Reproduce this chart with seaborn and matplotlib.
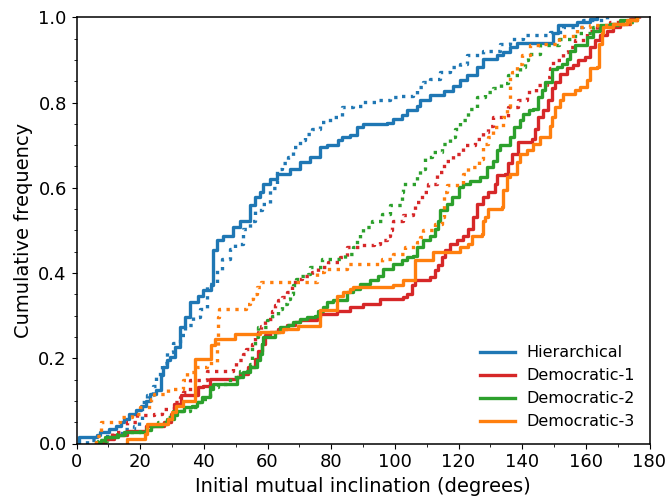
import numpy as np
import matplotlib
matplotlib.use("Agg")
import matplotlib.pyplot as plt
import seaborn as sns
from matplotlib.ticker import MultipleLocator

# ECDF: (inclination in degrees, cumulative frequency after the step)
hier_solid = [(0.8, 0.015), (6.5, 0.021), (7.5, 0.027), (10.2, 0.035), (12.3, 0.042), (13.9, 0.05),
              (14.9, 0.058), (16.5, 0.07), (18.6, 0.078), (20.2, 0.089), (21.7, 0.10), (23.2, 0.117),
              (24.9, 0.125), (26.7, 0.16), (27.3, 0.18), (28.5, 0.195), (29.4, 0.203), (30.9, 0.226),
              (32.5, 0.273), (34.0, 0.296), (35.7, 0.332), (38.3, 0.347), (39.8, 0.359), (42.4, 0.371),
              (42.8, 0.453), (44.0, 0.477), (46.1, 0.488), (49.3, 0.508), (51.4, 0.523), (54.5, 0.559),
              (56.0, 0.578), (57.7, 0.59), (58.7, 0.61), (60.8, 0.621), (62.9, 0.633), (67.0, 0.643),
              (70.2, 0.66), (73.4, 0.672), (76.5, 0.696), (78.6, 0.70), (82.3, 0.711), (83.3, 0.719),
              (85.9, 0.723), (88.0, 0.742), (90.1, 0.75), (97.4, 0.753), (99.5, 0.762), (102.1, 0.77),
              (103.7, 0.782), (106.9, 0.793), (107.9, 0.807), (111.0, 0.817), (115.3, 0.827),
              (118.4, 0.838), (120.5, 0.852), (122.6, 0.864), (125.7, 0.883), (127.8, 0.903),
              (132.0, 0.911), (134.1, 0.918), (136.2, 0.93), (138.3, 0.94), (149.8, 0.962),
              (151.3, 0.981), (157.1, 0.989), (161.4, 0.997), (163.4, 1.0)]

hier_dotted = [(3.2, 0.008), (8.2, 0.017), (12.3, 0.025), (15.3, 0.033), (18.0, 0.042), (19.6, 0.054),
               (20.6, 0.097), (22.0, 0.113), (23.9, 0.134), (24.9, 0.163), (27.0, 0.19), (28.3, 0.214),
               (30.4, 0.235), (32.4, 0.255), (34.0, 0.277), (36.7, 0.296), (38.8, 0.316), (40.9, 0.375),
               (44.0, 0.406), (45.6, 0.434), (48.2, 0.457), (49.8, 0.469), (52.4, 0.504), (54.5, 0.523),
               (56.0, 0.547), (58.2, 0.563), (60.7, 0.60), (62.9, 0.645), (64.4, 0.657), (66.5, 0.672),
               (68.1, 0.696), (70.2, 0.711), (71.8, 0.727), (73.9, 0.739), (76.5, 0.754), (79.6, 0.766),
               (83.3, 0.789), (86.9, 0.793), (90.1, 0.801), (94.3, 0.807), (98.5, 0.813), (101.6, 0.815),
               (105.8, 0.821), (106.9, 0.836), (108.9, 0.848), (111.0, 0.856), (114.1, 0.872),
               (117.4, 0.883), (120.5, 0.891), (122.6, 0.911), (127.8, 0.922), (133.0, 0.938),
               (136.2, 0.95), (140.4, 0.958), (148.7, 0.965), (152.9, 0.977), (159.2, 0.993), (166.6, 1.0)]

dem1_solid = [(9.1, 0.011), (11.8, 0.019), (16.0, 0.03), (21.7, 0.042), (27.5, 0.05), (29.6, 0.07),
              (30.6, 0.093), (32.7, 0.113), (38.3, 0.132), (39.8, 0.136), (41.9, 0.152), (50.3, 0.155),
              (51.4, 0.164), (53.9, 0.179), (56.0, 0.198), (57.1, 0.218), (58.2, 0.234), (59.2, 0.254),
              (60.8, 0.262), (63.4, 0.269), (66.0, 0.277), (68.6, 0.285), (70.2, 0.29), (75.4, 0.297),
              (76.5, 0.304), (81.8, 0.312), (85.9, 0.32), (90.1, 0.328), (95.4, 0.34), (102.6, 0.343),
              (103.8, 0.351), (105.3, 0.371), (106.4, 0.383), (111.0, 0.39), (112.6, 0.406),
              (113.6, 0.418), (114.8, 0.437), (115.8, 0.453), (117.4, 0.469), (119.4, 0.478),
              (121.5, 0.488), (123.1, 0.504), (124.6, 0.531), (125.7, 0.563), (127.8, 0.578),
              (129.4, 0.59), (131.5, 0.61), (132.0, 0.629), (134.6, 0.633), (135.6, 0.657),
              (136.7, 0.68), (138.8, 0.707), (143.0, 0.715), (144.0, 0.739), (145.1, 0.766),
              (146.6, 0.782), (148.2, 0.805), (149.3, 0.833), (150.4, 0.848), (151.9, 0.868),
              (154.0, 0.88), (156.1, 0.887), (157.6, 0.899), (159.7, 0.907), (161.4, 0.93),
              (162.9, 0.946), (164.5, 0.958), (166.6, 0.969), (168.6, 0.977), (170.7, 0.985),
              (173.9, 0.997), (175.7, 1.0)]

dem1_dotted = [(7.9, 0.011), (11.0, 0.027), (15.8, 0.05), (18.9, 0.066), (24.4, 0.07), (26.8, 0.081),
               (30.6, 0.097), (32.5, 0.109), (33.4, 0.12), (35.8, 0.148), (40.9, 0.171), (49.3, 0.179),
               (50.1, 0.197), (52.4, 0.211), (53.4, 0.222), (55.0, 0.234), (56.0, 0.25), (56.9, 0.262),
               (58.0, 0.275), (59.2, 0.293), (61.3, 0.312), (62.4, 0.324), (63.4, 0.336), (64.4, 0.343),
               (66.0, 0.355), (67.6, 0.375), (68.6, 0.387), (70.8, 0.394), (73.9, 0.402), (76.0, 0.414),
               (79.1, 0.426), (82.8, 0.437), (84.9, 0.461), (89.0, 0.465), (93.3, 0.469), (95.4, 0.477),
               (97.4, 0.488), (98.5, 0.5), (99.0, 0.512), (99.5, 0.523), (102.6, 0.535), (105.8, 0.543),
               (106.4, 0.566), (108.6, 0.59), (110.5, 0.61), (113.1, 0.637), (115.3, 0.664),
               (118.4, 0.68), (121.5, 0.70), (125.2, 0.715), (127.8, 0.731), (129.4, 0.746),
               (130.9, 0.766), (135.6, 0.789), (138.8, 0.805), (141.4, 0.825), (144.4, 0.84),
               (147.7, 0.86), (148.7, 0.88), (149.8, 0.899), (152.9, 0.919), (154.5, 0.93),
               (156.6, 0.946), (160.3, 0.969), (163.6, 0.98), (167.6, 0.989), (173.7, 0.996), (176.7, 1.0)]

dem2_solid = [(6.0, 0.004), (7.6, 0.008), (9.1, 0.015), (12.9, 0.019), (14.9, 0.027), (21.7, 0.031),
              (23.4, 0.042), (27.0, 0.046), (28.5, 0.058), (30.6, 0.066), (31.6, 0.077), (33.7, 0.085),
              (36.4, 0.089), (38.0, 0.097), (39.5, 0.109), (41.9, 0.128), (43.0, 0.14), (50.3, 0.156),
              (52.4, 0.167), (54.5, 0.179), (56.6, 0.197), (57.7, 0.211), (58.2, 0.234), (58.7, 0.25),
              (62.4, 0.261), (63.9, 0.273), (66.5, 0.277), (68.1, 0.285), (70.2, 0.293), (72.3, 0.297),
              (74.9, 0.30), (76.0, 0.312), (77.5, 0.32), (78.6, 0.332), (80.7, 0.336), (84.9, 0.355),
              (86.9, 0.363), (89.0, 0.375), (92.1, 0.383), (94.8, 0.394), (96.4, 0.41), (99.5, 0.422),
              (102.1, 0.43), (103.7, 0.437), (105.8, 0.441), (106.9, 0.461), (108.9, 0.477),
              (111.0, 0.488), (112.6, 0.504), (113.6, 0.523), (114.1, 0.547), (116.3, 0.563),
              (117.9, 0.578), (120.0, 0.602), (121.5, 0.61), (123.6, 0.617), (126.8, 0.625),
              (128.9, 0.649), (130.9, 0.664), (132.0, 0.688), (133.0, 0.70), (136.1, 0.719),
              (137.3, 0.743), (139.4, 0.758), (140.4, 0.774), (142.0, 0.782), (143.5, 0.786),
              (145.1, 0.813), (146.1, 0.829), (147.1, 0.848), (149.3, 0.879), (150.9, 0.883),
              (152.4, 0.891), (154.0, 0.903), (155.0, 0.922), (156.6, 0.934), (160.3, 0.954),
              (162.4, 0.969), (164.5, 0.981), (167.6, 0.985), (170.7, 0.993), (176.0, 1.0)]

dem2_dotted = [(6.8, 0.007), (9.6, 0.015), (12.7, 0.023), (16.0, 0.027), (19.9, 0.034), (22.7, 0.042),
               (25.7, 0.05), (28.4, 0.062), (30.4, 0.077), (35.7, 0.085), (38.5, 0.105), (41.9, 0.132),
               (44.5, 0.14), (48.1, 0.155), (51.4, 0.171), (54.5, 0.187), (55.0, 0.226), (56.1, 0.25),
               (57.1, 0.273), (59.8, 0.289), (61.3, 0.30), (63.4, 0.316), (64.4, 0.328), (66.0, 0.34),
               (67.0, 0.351), (68.1, 0.371), (69.1, 0.387), (70.2, 0.394), (72.8, 0.398), (73.4, 0.414),
               (77.0, 0.434), (84.4, 0.445), (86.9, 0.46), (88.0, 0.477), (89.0, 0.492), (90.1, 0.508),
               (92.8, 0.523), (95.9, 0.539), (98.5, 0.559), (102.1, 0.59), (102.6, 0.61), (106.9, 0.629),
               (107.9, 0.645), (109.5, 0.672), (111.6, 0.684), (114.8, 0.703), (117.4, 0.719),
               (118.9, 0.739), (120.5, 0.758), (122.6, 0.766), (123.1, 0.786), (125.7, 0.813),
               (128.4, 0.825), (130.9, 0.833), (133.3, 0.845), (135.6, 0.864), (139.4, 0.883),
               (140.9, 0.899), (141.9, 0.915), (145.6, 0.934), (151.5, 0.95), (156.6, 0.962),
               (162.4, 0.977), (169.7, 0.989), (175.7, 1.0)]

dem3_solid = [(15.8, 0.011), (21.5, 0.023), (22.1, 0.046), (28.8, 0.058), (29.9, 0.073), (31.4, 0.089),
              (33.5, 0.10), (37.2, 0.199), (42.4, 0.232), (43.5, 0.246), (49.8, 0.257), (57.7, 0.262),
              (65.0, 0.269), (69.7, 0.275), (76.5, 0.314), (81.8, 0.347), (83.8, 0.355), (85.9, 0.363),
              (86.9, 0.367), (99.5, 0.371), (102.6, 0.383), (106.4, 0.43), (112.1, 0.449),
              (120.5, 0.461), (123.1, 0.469), (124.1, 0.488), (127.3, 0.492), (127.8, 0.523),
              (128.4, 0.531), (129.4, 0.551), (133.6, 0.555), (134.1, 0.594), (135.1, 0.625),
              (136.1, 0.633), (138.3, 0.66), (139.4, 0.68), (141.5, 0.688), (143.5, 0.703),
              (145.6, 0.719), (148.7, 0.746), (149.3, 0.766), (150.4, 0.789), (151.9, 0.805),
              (152.9, 0.821), (156.6, 0.829), (158.1, 0.836), (160.3, 0.852), (161.4, 0.88),
              (163.4, 0.884), (164.0, 0.938), (165.0, 0.962), (165.5, 0.977), (168.6, 0.985),
              (172.9, 0.993), (176.0, 1.0)]

dem3_dotted = [(6.2, 0.017), (7.7, 0.05), (13.8, 0.062), (17.3, 0.07), (19.8, 0.085), (23.4, 0.105),
               (24.2, 0.117), (28.9, 0.128), (33.6, 0.15), (34.7, 0.167), (37.8, 0.179), (41.0, 0.19),
               (44.0, 0.226), (44.3, 0.26), (44.5, 0.296), (44.8, 0.315), (53.4, 0.328), (54.5, 0.34),
               (55.5, 0.351), (56.6, 0.367), (57.9, 0.379), (75.4, 0.402), (77.8, 0.41), (84.9, 0.42),
               (95.9, 0.434), (99.5, 0.445), (103.1, 0.461), (106.9, 0.473), (107.9, 0.484),
               (108.9, 0.5), (112.6, 0.516), (114.8, 0.531), (115.3, 0.555), (115.5, 0.59),
               (116.3, 0.606), (121.5, 0.633), (123.1, 0.649), (126.3, 0.668), (127.8, 0.703),
               (129.3, 0.72), (130.9, 0.743), (134.1, 0.766), (135.3, 0.79), (136.1, 0.821),
               (136.2, 0.848), (136.3, 0.868), (136.7, 0.872), (138.3, 0.891), (139.9, 0.911),
               (142.5, 0.934), (145.6, 0.938), (151.5, 0.955), (157.1, 0.977), (161.4, 0.981),
               (167.6, 0.985), (173.9, 0.993), (176.7, 1.0)]

labels = ["Hierarchical", "Democratic-1", "Democratic-2", "Democratic-3"]
colors = ["tab:blue", "tab:red", "tab:green", "tab:orange"]
solid_runs = [hier_solid, dem1_solid, dem2_solid, dem3_solid]
dotted_runs = [hier_dotted, dem1_dotted, dem2_dotted, dem3_dotted]

fig = plt.figure(figsize=(6.7, 4.97), dpi=100)
ax = fig.add_axes([76.5 / 670, 53.5 / 497, 573 / 670, 426.2 / 497])

for lab, col, run_a, run_b in zip(labels, colors, solid_runs, dotted_runs):
    for run, ls, name in [(run_a, "-", lab), (run_b, ":", None)]:
        arr = np.array(run)
        # step heights from the cumulative levels -> weights for the ECDF
        w = np.diff(arr[:, 1], prepend=0.0)
        sns.ecdfplot(x=arr[:, 0], weights=w, ax=ax, color=col, lw=2.4, ls=ls, label=name)

ax.set_xlim(0, 180)
ax.set_ylim(0, 1)
ax.xaxis.set_major_locator(MultipleLocator(20))
ax.xaxis.set_minor_locator(MultipleLocator(10))
ax.yaxis.set_major_locator(MultipleLocator(0.2))
ax.yaxis.set_minor_locator(MultipleLocator(0.05))
ax.tick_params(labelsize=13)
for sp in ax.spines.values():
    sp.set_linewidth(1.1)
ax.set_xlabel("Initial mutual inclination (degrees)", fontsize=14)
ax.set_ylabel("Cumulative frequency", fontsize=14)

ax.legend(loc="lower right", frameon=False, fontsize=11.5, handlelength=2.2,
          handletextpad=0.7, labelspacing=0.5)

fig.savefig("out.png", dpi=100)
